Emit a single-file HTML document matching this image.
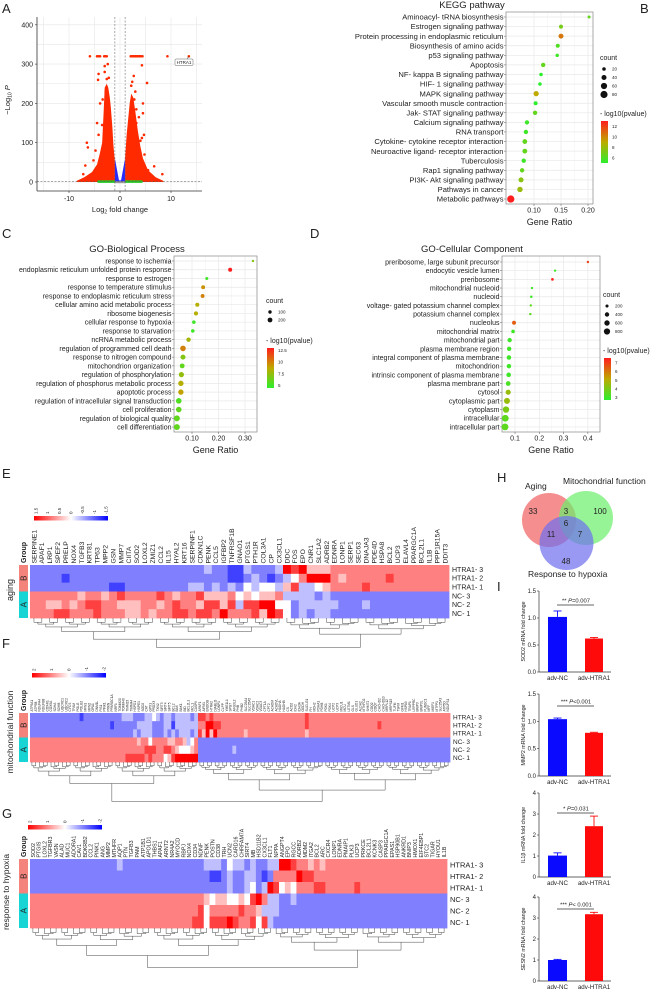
<!DOCTYPE html>
<html><head><meta charset="utf-8">
<style>
html,body{margin:0;padding:0;background:#fff;}
svg{display:block;}
svg text{font-family:"Liberation Sans",sans-serif;fill:#222;}
</style></head>
<body>
<svg id="fig" width="658" height="991" viewBox="0 0 658 991" xmlns="http://www.w3.org/2000/svg">
<rect x="0" y="0" width="658" height="991" fill="#fff"/>
</svg>
<script>
// ================= DATA =================
// Panel A volcano
const volcanoYTicks=[0,100,200,300,400];
const volcanoXTicks=[-10,0,10];
const volcanoDenseLeft=[[-1,0],[-1,50],[-1.3,95],[-1.5,140],[-1.8,190],[-2,215],[-2.3,240],[-2.6,250],[-3,240],[-3.2,180],[-3.5,100],[-4,70],[-4.5,45],[-5.5,25],[-7,12],[-8.5,3],[-8.5,0]];
const volcanoDenseRight=[[1,0],[1,60],[1.3,120],[1.6,160],[1.9,200],[2.2,225],[2.6,215],[3,180],[3.5,130],[4,90],[4.5,60],[5.5,30],[7,12],[8.5,3],[8.5,0]];
const volcanoCore=[[-1,0],[-1,60],[-0.2,4],[0.2,4],[1,60],[1,0]];
const volcanoTopLfc=[-5.9,-4.5,-4.2,-3.9,-3.1,-2.9,-2.6,2.1,2.3,2.5,2.7,2.9,3.1,3.3,3.5,3.7,3.9,4.1,4.4,9.3];
const volcanoTopP=320;
const volcanoScatter=[[-6.5,100],[-6.3,88],[-7.2,20],[-6.8,42],[-4.2,275],[-4.3,260],[-3,295],[-3,280],[-2.6,262],[-2.8,230],[-4.2,120],[-4.5,150],[-3.5,145],[-3.9,200],[-2.4,300],[5.3,252],[4.3,297],[2.7,270],[2.2,245],[2.8,210],[4.5,200],[4.5,175],[3.7,165],[4.3,112],[4.7,120],[4.8,70],[4.0,105],[3.2,185],[2.5,185],[6.7,40],[8.3,20],[5.5,30],[3.2,150],[2.2,170],[3.5,60],[6,10],[-5.2,55],[-4.8,80],[2.4,255],[3.0,230],[-2.2,265],[-3.4,210]];
const volcanoGreen=[-4.2,-3.9,-3.6,-3.3,-3,-2.7,-2.4,-2.1,-1.8,-1.5,-1.2,1.2,1.5,1.8,2.1,2.4,2.7,3,3.3,3.6,3.9,4.2];
const htra1Point=[13.5,320];

// Panel B KEGG
const keggTerms=["Aminoacyl- tRNA biosynthesis","Estrogen signaling pathway","Protein processing in endoplasmic reticulum","Biosynthesis of amino acids","p53 signaling pathway","Apoptosis","NF- kappa B signaling pathway","HIF- 1 signaling pathway","MAPK signaling pathway","Vascular smooth muscle contraction","Jak- STAT signaling pathway","Calcium signaling pathway","RNA transport","Cytokine- cytokine receptor interaction","Neuroactive ligand- receptor interaction","Tuberculosis","Rap1 signaling pathway","PI3K- Akt signaling pathway","Pathways in cancer","Metabolic pathways"];
const keggRatio=[0.202,0.150,0.150,0.144,0.143,0.117,0.113,0.111,0.104,0.103,0.102,0.087,0.085,0.083,0.083,0.081,0.078,0.076,0.074,0.057];
const keggCount=[14,25,38,25,18,30,20,20,42,25,30,30,30,36,36,30,30,40,46,82];
const keggLogP=[6.5,7,10.5,6,5.5,6.5,5,5,9,5,6.5,5.5,5.5,6.5,6.5,5.5,6.5,7.5,8,13];
const keggXTicks=[0.10,0.15,0.20];
const keggCountLegend=[20,40,60,80];
const keggPLegend=[12,10,8,6];

// Panel C GO-BP
const bpTerms=["response to ischemia","endoplasmic reticulum unfolded protein response","response to estrogen","response to temperature stimulus","response to endoplasmic reticulum stress","cellular amino acid metabolic process","ribosome biogenesis","cellular response to hypoxia","response to starvation","ncRNA metabolic process","regulation of programmed cell death","response to nitrogen compound","mitochondrion organization","regulation of phosphorylation","regulation of phosphorus metabolic process","apoptotic process","regulation of intracellular signal transduction","cell proliferation","regulation of biological quality","cell differentiation"];
const bpRatio=[0.33,0.244,0.156,0.142,0.140,0.120,0.115,0.107,0.103,0.087,0.066,0.066,0.063,0.060,0.058,0.058,0.050,0.050,0.043,0.043];
const bpCount=[50,140,80,130,130,140,140,110,110,170,270,220,200,230,250,250,270,270,310,310];
const bpLogP=[7,13,5,9.5,10,8.5,8.5,5,5,8,10,7,6,7.5,8.5,9,5.5,6,6,6];
const bpXTicks=[0.10,0.20,0.30];
const bpCountLegend=[100,200];
const bpPLegend=[12.5,10.0,7.5,5.0];

// Panel D GO-CC
const ccTerms=["preribosome, large subunit precursor","endocytic vesicle lumen","preribosome","mitochondrial nucleoid","nucleoid","voltage- gated potassium channel complex","potassium channel complex","nucleolus","mitochondrial matrix","mitochondrial part","plasma membrane region","integral component of plasma membrane","mitochondrion","intrinsic component of plasma membrane","plasma membrane part","cytosol","cytoplasmic part","cytoplasm","intracellular","intracellular part"];
const ccRatio=[0.40,0.265,0.254,0.170,0.167,0.165,0.163,0.096,0.092,0.078,0.076,0.075,0.075,0.074,0.072,0.072,0.067,0.063,0.060,0.059];
const ccCount=[120,120,150,120,130,120,120,320,260,400,400,420,420,440,470,550,750,850,950,950];
const ccLogP=[7,3,7.5,3,3,3.5,3.5,6.5,3,3,3,3,3,3,3.2,4.5,4.5,4,3.5,3.5];
const ccXTicks=[0.1,0.2,0.3,0.4];
const ccCountLegend=[200,400,600,800];
const ccPLegend=[7,6,5,4,3];

// Heatmaps: rows HTRA1-3, HTRA1-2, HTRA1-1, NC-3, NC-2, NC-1; chars 0..8 => -2..2
const sampleNames=["HTRA1- 3","HTRA1- 2","HTRA1- 1","NC- 3","NC- 2","NC- 1"];
const agingGenes=["SERPINE1","APAF1","LRP1","SPEF2","PRELP","NOX4","TGFB3","KRT81","TP63","MPP2","GSN","MMP7","CIITA","SOD2","LOXL2","ZMIZ1","CCL2","IL15","HYAL2","KRT16","SERPINF1","CDKN1C","PENK","CCL5","IGFBP2","TNFRSF1B","GNAO1","PTGS1","PTH1R","COL3A1","CP","CX3CL1","DDC","FOS","EPO","CNR1","SLC1A2","ADRB2","EDNRA","LONP1","SERP1","SEC63","DNAJA3","PDE4D","HSPA8","BCL2","UCP3","ELAVL4","PPARGC1A","BCL2L1","IL1B","PPP1R15A","DDIT3"];
const agingRows=[
"2222222222 2222222222 2232211322 2387855566 6666666666 666",
"2222122222 2222222222 2222211232 1234688865 6666676666 666",
"2222222222 1122222222 3323232434 4357334566 6676666666 666",
"6666665665 6766667656 6755564545 5633332322 2222222222 222",
"6655656776 6555665676 6577573778 8442333332 2232222222 222",
"6667766676 6655656677 6776866675 8742323322 2222222222 222"];
const mitoGenes=["ATP5A1","ATP5B","NDUFA4","NDUFB8","COX4I1","COX5A","SDHA","SDHB","UQCRC1","UQCRC2","CYCS","TFAM","POLG","POLG2","MFN1","MFN2","OPA1","DNM1L","FIS1","PINK1","PRKN","PPARGC1A","NRF1","TOMM20","TOMM40","TIMM23","TIMM44","HSPD1","HSPE1","SOD2","CAT","GPX1","PRDX3","TXN2","SIRT3","SIRT4","SIRT5","BCL2","BAX","BAK1","BID","BCL2L1","MCL1","CASP9","APAF1","AIFM1","ENDOG","HTRA2","DIABLO","LONP1","CLPP","YME1L1","SPG7","AFG3L2","PHB","PHB2","SLC25A4","SLC25A5","VDAC1","VDAC2","VDAC3","CPT1A","CPT2","ACADM","ACADVL","HADHA","HADHB","CS","ACO2","IDH2","IDH3A","OGDH","SUCLG1","FH","MDH2","PDHA1","PDHB","PDK1","PDK4","UCP2","UCP3","MICU1","MCU","LETM1","GLS","GLUD1","ALDH2","MTHFD2","SHMT2","COQ2","COQ7","CHCHD2","CHCHD10","MRPL12","MRPS15","TUFM","TSFM","GFM1","HSPA9","TRAP1","LRPPRC","BNIP3","BNIP3L","FUNDC1","MFF","MIEF1","MTFP1","SLC25A3","ATP5O","NDUFS1"];
const mitoRows=[
"2222222222 2221222222 2222333222 3343233233 3323776766 6666666666 6666666666 6676666666 6666666666 6666666666 6666666666",
"2222222222 2222222222 2122222233 3322233133 3333668877 6666666666 6666666666 6676666666 6666666666 6766666666 6666666666",
"2222222222 2222222222 2222222323 3322232323 3323758586 6666665666 6666666666 6656666666 6666666666 6666666666 6666666666",
"6666666666 6666666666 6666666656 6466665566 5346222222 2222222222 2222222222 2222222222 2222222222 2222222222 2222222222",
"6666666666 6666666666 6666666666 7776677654 4456222222 2223222222 2222222222 2222222222 2222222222 2222222222 2222222222",
"6666666666 6666666666 6666677777 6766645788 8888222222 2222222222 2222222222 2222222222 2222222222 2222222222 2222222222"];
const hypoxiaGenes=["SOD2","PTGIS","LOXL2","TGFBR3","VASN","ALAD","MUC1","ADORA1","CAV1","BDKRB2","CCL2","PINK1","ANG","MMP2","MTHFR","AQP1","PTN","TGFB3","PAM","ATP1B1","APOLD1","THBS1","APAF1","ARNT2","NR4A2","MYOCD","RBPJ","NOX4","CD34","NDNF","PENK","POSTN","CD38","TRH","UCN2","CARD16","CHRFAM7A","SIRT4","MB","HSD11B2","CX3CL1","FLT1","NPPA","ANGPT4","EPO","RGCC","ADRB2","MDM2","ITGA2","BCL2","ARC","CXCR4","LONP1","EDNRA","PMAIP1","PLK3","UCP3","PRKCE","BCL2L1","KCNK3","CASP3","PPARGC1A","EPAS1","HSP90B1","ANKRD1","BNIP3","HMOX1","EIF4EBP1","STC2","TIGAR","HYOU1","IL1B"];
const hypoxiaRows=[
"2222222222 2222232222 2222222222 3332433232 2338876656 5666666666 6666666666 66",
"2222222222 2222222222 2222222222 2112322332 1266668776 6666666666 6666666666 66",
"2222222222 2222222222 2222222222 2222322342 3874546667 7666667666 6666666666 66",
"6666666666 6666666666 6666666666 5455445478 6332232222 2222222222 2222222222 22",
"6666666666 6666666666 6666666667 4666667665 3332222222 2222222222 2222222222 22",
"6666666666 6666666666 6666666677 4777876674 7322222222 2222222222 2222222222 22"];

// Panel H venn
const vennSets=["Aging","Mitochondrial function","Response to hypoxia"];
const vennCounts=[33,3,100,6,11,7,48];

// Panel I bars
const barGroups=["adv-NC","adv-HTRA1"];
const sod2Values=[1.02,0.62]; const sod2Errors=[0.11,0.02];
const mmp2Values=[1.04,0.79]; const mmp2Errors=[0.02,0.01];
const il1bValues=[1.02,2.42]; const il1bErrors=[0.13,0.48];
const sesn2Values=[1.0,3.18]; const sesn2Errors=[0.03,0.09];

// ================= DRAWING =================
const NS='http://www.w3.org/2000/svg';
const svg=document.getElementById('fig');
function mk(tag,attrs,parent){const e=document.createElementNS(NS,tag);for(const k in attrs)e.setAttribute(k,attrs[k]);(parent||svg).appendChild(e);return e;}
function tx(x,y,s,attrs,parent){const e=mk('text',Object.assign({x:x,y:y},attrs||{}),parent);e.textContent=s;return e;}
function grp(name){const g=mk('g',{});
return g;}

// panel letters
[["A",2,13],["B",640,13],["C",2,238],["D",310,238],["E",2,478],["F",2,648],["G",2,818],["H",497,482],["I",497,591]].forEach(l=>{
  const e=tx(l[1],l[2],l[0],{'font-size':13});
  
  
});

// ---------- Panel A ----------
(function(){
  const g=grp('volcano-plot');
  const xA=l=>120+l*5.1, yA=p=>182-p*0.393;
  for(let l=-15;l<=15;l+=5){mk('line',{x1:xA(l),x2:xA(l),y1:17,y2:191,stroke:'#e6e6e6','stroke-width':0.6},g);}
  for(let p=0;p<=425;p+=50){if(yA(p)<17)continue;mk('line',{x1:37,x2:202,y1:yA(p),y2:yA(p),stroke:'#e6e6e6','stroke-width':0.6},g);}
  const poly=(pts,fill,name)=>{const e=mk('polygon',{points:pts.map(p=>xA(p[0])+','+yA(p[1])).join(' '),fill:fill},g);
    
    };
  poly(volcanoDenseLeft,'#ff2a00','dense-down-genes');
  poly(volcanoDenseRight,'#ff2a00','dense-up-genes');
  poly(volcanoCore,'#2a2aff','nonsig-fold-genes');
  volcanoGreen.forEach(l=>{const c=mk('circle',{cx:xA(l),cy:yA(1),r:1.3,fill:'#22cc22'},g);
    
    });
  mk('rect',{x:xA(-1),y:yA(2),width:xA(1)-xA(-1),height:2,fill:'#999'},g);
  volcanoScatter.forEach(p=>{const c=mk('circle',{cx:xA(p[0]),cy:yA(p[1]),r:1.3,fill:'#ff2a00'},g);
    
    });
  volcanoTopLfc.forEach(l=>{const c=mk('circle',{cx:xA(l),cy:yA(volcanoTopP),r:1.3,fill:'#ff2a00'},g);
    
    });
  const h=mk('circle',{cx:xA(htra1Point[0]),cy:yA(htra1Point[1]),r:1.3,fill:'#ff2a00'},g);
  
  
  mk('line',{x1:xA(htra1Point[0]),y1:yA(htra1Point[1]),x2:xA(htra1Point[0])-2,y2:yA(htra1Point[1])+3,stroke:'#333','stroke-width':0.5},g);
  mk('rect',{x:175,y:59,width:18,height:6.5,rx:1,fill:'#fff',stroke:'#666','stroke-width':0.5},g);
  const hl=tx(184,64,'HTRA1',{'font-size':4.5,'text-anchor':'middle'},g);
  
  
  [-1,1].forEach(l=>mk('line',{x1:xA(l),x2:xA(l),y1:17,y2:191,stroke:'#555','stroke-width':0.5,'stroke-dasharray':'2,1.5'},g));
  mk('line',{x1:37,x2:202,y1:yA(1.3),y2:yA(1.3),stroke:'#555','stroke-width':0.5,'stroke-dasharray':'2,1.5'},g);
  mk('line',{x1:37,x2:37,y1:17,y2:191,stroke:'#333','stroke-width':0.8},g);
  mk('line',{x1:37,x2:202,y1:191,y2:191,stroke:'#333','stroke-width':0.8},g);
  volcanoYTicks.forEach(v=>{mk('line',{x1:35,x2:37,y1:yA(v),y2:yA(v),stroke:'#333','stroke-width':0.6},g);
    const t=tx(33,yA(v)+2.5,String(v),{'font-size':7,'text-anchor':'end','fill':'#444'},g);
    
    });
  volcanoXTicks.forEach(v=>{mk('line',{x1:xA(v),x2:xA(v),y1:191,y2:193,stroke:'#333','stroke-width':0.6},g);
    const t=tx(xA(v),201,String(v),{'font-size':7,'text-anchor':'middle','fill':'#444'},g);
    
    });
  const xt=tx(120,212,'',{'font-size':7.5,'text-anchor':'middle'},g);
  xt.innerHTML='Log<tspan font-size="5" dy="1.5">2</tspan><tspan dy="-1.5"> fold change</tspan>';
  
  
  const yt=tx(0,0,'',{'font-size':7.5,'text-anchor':'middle',transform:'translate(10,100) rotate(-90)'},g);
  yt.innerHTML='−Log<tspan font-size="5" dy="1.5">10</tspan><tspan dy="-1.5" font-style="italic"> P</tspan>';
  
  
})();

// ---------- dot plots ----------
function pcol(v,lo,hi){let t=Math.max(0,Math.min(1,(v-lo)/(hi-lo)));
  const s=[[0,[45,238,45]],[0.5,[190,170,0]],[1,[255,30,30]]];
  let a=s[0],b=s[1];if(t>0.5){a=s[1];b=s[2];}
  const u=(t-a[0])/(b[0]-a[0]);const c=a[1].map((x,i)=>Math.round(x+(b[1][i]-x)*u));
  return 'rgb('+c.join(',')+')';}
function dotPlot(c){
  const g=grp(c.name);
  const X=r=>c.x0+(r-c.r0)*c.kx;
  const Y=i=>c.rowY0+i*c.rowStep;
  mk('rect',{x:c.box[0],y:c.box[1],width:c.box[2]-c.box[0],height:c.box[3]-c.box[1],fill:'#fff'},g);
  c.ticks.forEach((t,i)=>{mk('line',{x1:X(t),x2:X(t),y1:c.box[1],y2:c.box[3],stroke:'#e8e8e8','stroke-width':0.7},g);
    if(i<c.ticks.length-1){const m=(t+c.ticks[i+1])/2;mk('line',{x1:X(m),x2:X(m),y1:c.box[1],y2:c.box[3],stroke:'#f2f2f2','stroke-width':0.5},g);}});
  c.terms.forEach((term,i)=>{mk('line',{x1:c.box[0],x2:c.box[2],y1:Y(i),y2:Y(i),stroke:'#e8e8e8','stroke-width':0.7},g);
    mk('line',{x1:c.box[0]-2,x2:c.box[0],y1:Y(i),y2:Y(i),stroke:'#555','stroke-width':0.5},g);
    const t=tx(c.box[0]-2.5,Y(i)+c.fs*0.35,term,{'font-size':c.fs,'text-anchor':'end','fill':'#222'},g);
    
    });
  mk('rect',{x:c.box[0],y:c.box[1],width:c.box[2]-c.box[0],height:c.box[3]-c.box[1],fill:'none',stroke:'#888','stroke-width':0.7},g);
  c.terms.forEach((term,i)=>{const d=mk('circle',{cx:X(c.ratio[i]),cy:Y(i),r:c.rf*Math.sqrt(c.count[i]),fill:pcol(c.logp[i],c.plo,c.phi)},g);
    
    });
  c.ticks.forEach(t=>{mk('line',{x1:X(t),x2:X(t),y1:c.box[3],y2:c.box[3]+2,stroke:'#555','stroke-width':0.5},g);
    const l=tx(X(t),c.box[3]+8.5,t.toFixed(c.dec),{'font-size':7,'text-anchor':'middle','fill':'#333'},g);
    
    });
  const gr=tx((c.box[0]+c.box[2])/2,c.box[3]+21,'Gene Ratio',{'font-size':9,'text-anchor':'middle'},g);
  
  
  const ti=tx(c.titleX,c.titleY,c.title,{'font-size':9.5,'text-anchor':'middle'},g);
  
  
  // legend
  const L=c.leg;
  const ct=tx(L.x,L.cy,'count',{'font-size':7},g);
  
  
  c.countLeg.forEach((v,i)=>{const yy=L.cy+9+i*L.cstep;
    const d=mk('circle',{cx:L.x+4,cy:yy,r:c.rf*Math.sqrt(v),fill:'#111'},g);
    
    
    tx(L.x+12,yy+1.5,String(v),{'font-size':4.5,'fill':'#333'},g);});
  const pt=tx(L.x,L.py,'- log10(pvalue)',{'font-size':7},g);
  
  
  const gid='grad-'+c.name;
  const defs=mk('defs',{},g);const lg=mk('linearGradient',{id:gid,x1:0,y1:1,x2:0,y2:0},defs);
  [0,0.5,1].forEach(o=>mk('stop',{offset:o,'stop-color':pcol(c.plo+o*(c.phi-c.plo),c.plo,c.phi)},lg));
  const bar=mk('rect',{x:L.x+1,y:L.py+5,width:7,height:L.bh,fill:'url(#'+gid+')'},g);
  
  
  c.pLeg.forEach(v=>{const yy=L.py+5+L.bh*(1-(v-c.plo)/(c.phi-c.plo));
    tx(L.x+12,yy+1.5,String(v),{'font-size':4.5,'fill':'#333'},g);});
}
dotPlot({name:'kegg-dotplot',title:'KEGG pathway',titleX:472,titleY:8,box:[506,12,593,204],x0:534,r0:0.10,kx:540,rowY0:17,rowStep:9.58,
  terms:keggTerms,ratio:keggRatio,count:keggCount,logp:keggLogP,ticks:keggXTicks,dec:2,fs:7.6,rf:0.4,plo:5,phi:13,
  countLeg:keggCountLegend,pLeg:keggPLegend,leg:{x:600,cy:60,cstep:8.5,py:116,bh:42}});
dotPlot({name:'go-bp-dotplot',title:'GO-Biological Process',titleX:137,titleY:252,box:[174,256,257,432],x0:192,r0:0.10,kx:265,rowY0:261,rowStep:8.74,
  terms:bpTerms,ratio:bpRatio,count:bpCount,logp:bpLogP,ticks:bpXTicks,dec:2,fs:7,rf:0.17,plo:4.5,phi:13,
  countLeg:bpCountLegend,pLeg:bpPLegend,leg:{x:266,cy:303,cstep:8,py:343,bh:40}});
dotPlot({name:'go-cc-dotplot',title:'GO-Cellular Component',titleX:472,titleY:252,box:[502,256,600,432],x0:515,r0:0.1,kx:243,rowY0:262,rowStep:8.68,
  terms:ccTerms,ratio:ccRatio,count:ccCount,logp:ccLogP,ticks:ccXTicks,dec:1,fs:7,rf:0.11,plo:2.7,phi:7.6,
  countLeg:ccCountLegend,pLeg:ccPLegend,leg:{x:603,cy:297,cstep:8.5,py:353,bh:42}});

// ---------- heatmaps ----------
function hcol(v){const t=Math.max(-1,Math.min(1,v/2));
  if(t>=0){const k=Math.round(255*(1-t));return 'rgb(255,'+k+','+k+')';}
  const k=Math.round(255*(1+t));return 'rgb('+k+','+k+',255)';}
function heatmap(c){
  const g=grp(c.name);
  const n=c.genes.length, cw=c.w/n, rh=(c.y1-c.y0)/6;
  c.rows.forEach((s,r)=>{const str=s.replace(/ /g,'');
    for(let i=0;i<Math.min(n,str.length);i++){const v=(parseInt(str[i],10)-4)*0.5;
      const cell=mk('rect',{x:c.x0+i*cw,y:c.y0+r*rh,width:cw+0.4,height:rh+0.4,fill:hcol(v)},g);
      
      }});
  c.genes.forEach((gn,i)=>{const x=c.x0+(i+0.5)*cw+c.gfs*0.35,y=c.y0-1.5;
    const t=tx(x,y,gn,{'font-size':c.gfs,transform:'rotate(-90 '+x+' '+y+')'},g);
    
    });
  sampleNames.forEach((s,r)=>{const t=tx(c.x0+c.w+3,c.y0+(r+0.5)*rh+c.rfs*0.35,s,{'font-size':c.rfs},g);
    
    });
  const mid=(c.y0+c.y1)/2;
  const bB=mk('rect',{x:19,y:c.y0,width:9,height:mid-c.y0,fill:'#f4837b'},g);
  
  
  const bA=mk('rect',{x:19,y:mid,width:9,height:c.y1-mid,fill:'#19d4d4'},g);
  
  
  [['B',(c.y0+mid)/2],['A',(mid+c.y1)/2]].forEach(p=>{tx(0,0,p[0],{'font-size':8,'text-anchor':'middle',transform:'translate(26.5,'+p[1]+') rotate(-90)'},g);});
  const gt=tx(0,0,'Group',{'font-size':7,'font-weight':'bold',transform:'translate(26,'+(c.y0-2)+') rotate(-90)'},g);
  
  
  const st=tx(0,0,c.side,{'font-size':c.sfs,'text-anchor':'middle',transform:'translate('+c.sx+','+c.sy+') rotate(-90)'},g);
  
  
  // color key
  const gid='hk-'+c.name;const defs=mk('defs',{},g);const lg=mk('linearGradient',{id:gid,x1:0,y1:0,x2:1,y2:0},defs);
  [[0,'#ff0000'],[0.5,'#ffffff'],[1,'#0000ff']].forEach(s=>mk('stop',{offset:s[0],'stop-color':s[1]},lg));
  const key=mk('rect',{x:c.kx,y:c.ky,width:74,height:4.5,fill:'url(#'+gid+')'},g);
  
  
  c.keyLabels.forEach((l,i)=>{const x=c.kx+2+i*(70/(c.keyLabels.length-1))+1.5,y=c.ky-2;
    tx(x,y,l,{'font-size':4.5,'fill':'#333',transform:'rotate(-90 '+x+' '+y+')'},g);});
  // dendrogram
  function node(lo,hi){
    if(hi-lo===1)return {x:c.x0+(lo+0.5)*cw,y:c.y1};
    const m=(lo===0&&hi===n)?c.split:lo+Math.floor((hi-lo)/2);
    const a=node(lo,m),b=node(m,hi);
    let h=c.y1+1.5+c.dh*Math.pow((hi-lo)/n,0.7);
    h=Math.max(h,Math.max(a.y,b.y)+1);
    mk('path',{d:'M'+a.x+' '+a.y+'V'+h+'H'+b.x+'V'+b.y,fill:'none',stroke:'#333','stroke-width':0.45},g);
    return {x:(a.x+b.x)/2,y:h};}
  node(0,n);
}
heatmap({name:'aging-heatmap',genes:agingGenes,rows:agingRows,x0:30,w:419,y0:565,y1:618,split:32,dh:28,gfs:6.8,rfs:7,side:'aging',sx:13,sy:590,sfs:9,kx:34,ky:516,keyLabels:["1.5","1","0.5","0","-0.5","-1","-1.5"]});
heatmap({name:'mito-heatmap',genes:mitoGenes,rows:mitoRows,x0:30,w:420,y0:713,y1:762,split:44,dh:38,gfs:3.2,rfs:6.5,side:'mitochondrial function',sx:13,sy:732,sfs:8.5,kx:32,ky:673,keyLabels:["2","1","0","-1","-2"]});
heatmap({name:'hypoxia-heatmap',genes:hypoxiaGenes,rows:hypoxiaRows,x0:30,w:417,y0:859,y1:928,split:42,dh:38,gfs:5.3,rfs:7.5,side:'response to hypoxia',sx:9,sy:892,sfs:8.5,kx:28,ky:825,keyLabels:["2","1","0","-1","-2"]});

// ---------- Venn ----------
(function(){
  const g=grp('venn-diagram');
  const circ=[[549,520,'rgba(242,110,110,0.78)'],[586,518,'rgba(110,238,110,0.72)'],[566.5,543,'rgba(110,110,240,0.70)']];
  circ.forEach((c,i)=>{const e=mk('circle',{cx:c[0],cy:c[1],r:27,fill:c[2]},g);
    
    });
  const lab=[[525,489,'#f08080','start'],[563,484,'#7ee87e','start'],[528,577,'#8c8cf0','start']];
  vennSets.forEach((s,i)=>{const t=tx(lab[i][0],lab[i][1],s,{'font-size':8.5,'fill':lab[i][2]},g);
    
    });
  const pos=[[533,514],[566,514],[600,514],[566,526],[551,537],[580,537],[566,564]];
  vennCounts.forEach((v,i)=>{const t=tx(pos[i][0],pos[i][1],String(v),{'font-size':8,'text-anchor':'middle','fill':'#111'},g);
    
    });
})();

// ---------- bar plots ----------
function barPlot(c){
  const g=grp(c.name);
  const Y=v=>c.y0-(v/c.max)*(c.y0-c.yTop);
  const ax=539, bx=[[548,567],[585,603]], col=['#0a0aff','#ff0a0a'];
  mk('line',{x1:ax,x2:ax,y1:c.yTop,y2:c.y0,stroke:'#333','stroke-width':0.7},g);
  mk('line',{x1:ax,x2:611,y1:c.y0,y2:c.y0,stroke:'#333','stroke-width':0.7},g);
  c.ticks.forEach(t=>{mk('line',{x1:ax-2,x2:ax,y1:Y(t),y2:Y(t),stroke:'#333','stroke-width':0.6},g);
    const l=tx(ax-3,Y(t)+2,c.dec?t.toFixed(1):String(t),{'font-size':6,'text-anchor':'end','fill':'#333'},g);
    
    });
  c.values.forEach((v,i)=>{const xm=(bx[i][0]+bx[i][1])/2;
    const top=Y(v+c.errors[i]);
    mk('line',{x1:xm,x2:xm,y1:Y(v),y2:top,stroke:col[i],'stroke-width':0.9},g);
    mk('line',{x1:xm-4,x2:xm+4,y1:top,y2:top,stroke:col[i],'stroke-width':0.9},g);
    const b=mk('rect',{x:bx[i][0],y:Y(v),width:bx[i][1]-bx[i][0],height:c.y0-Y(v),fill:col[i]},g);
    
    
    const l=tx(xm,c.y0+8,barGroups[i],{'font-size':6.2,'text-anchor':'middle','fill':'#333'},g);
    
    });
  mk('line',{x1:557,x2:594,y1:c.sigY,y2:c.sigY,stroke:'#333','stroke-width':0.7},g);
  const s=tx(576,c.sigY-2.5,'',{'font-size':5.8,'text-anchor':'middle'},g);
  s.innerHTML=c.stars+' <tspan font-style="italic">P</tspan>'+c.p;
  
  
  const yl=tx(0,0,'',{'font-size':5.3,'text-anchor':'middle','fill':'#333',transform:'translate(525,'+((c.yTop+c.y0)/2)+') rotate(-90)'},g);
  yl.textContent=c.ylabel;
  
  
}
barPlot({name:'sod2-bar-chart',values:sod2Values,errors:sod2Errors,max:1.5,yTop:591,y0:672,ticks:[0,0.5,1,1.5],dec:true,sigY:605,stars:'**',p:'=0.007',ylabel:'SOD2 mRNA fold change'});
barPlot({name:'mmp2-bar-chart',values:mmp2Values,errors:mmp2Errors,max:1.5,yTop:694,y0:776,ticks:[0,0.5,1,1.5],dec:true,sigY:706,stars:'***',p:'<0.001',ylabel:'MMP2 mRNA fold change'});
barPlot({name:'il1b-bar-chart',values:il1bValues,errors:il1bErrors,max:4,yTop:793,y0:877,ticks:[0,1,2,3,4],dec:false,sigY:813,stars:'*',p:'=0.031',ylabel:'IL1β mRNA fold change'});
barPlot({name:'sesn2-bar-chart',values:sesn2Values,errors:sesn2Errors,max:4,yTop:897,y0:981,ticks:[0,1,2,3,4],dec:false,sigY:909,stars:'***',p:'< 0.001',ylabel:'SESN2 mRNA fold change'});
</script>
</body></html>
